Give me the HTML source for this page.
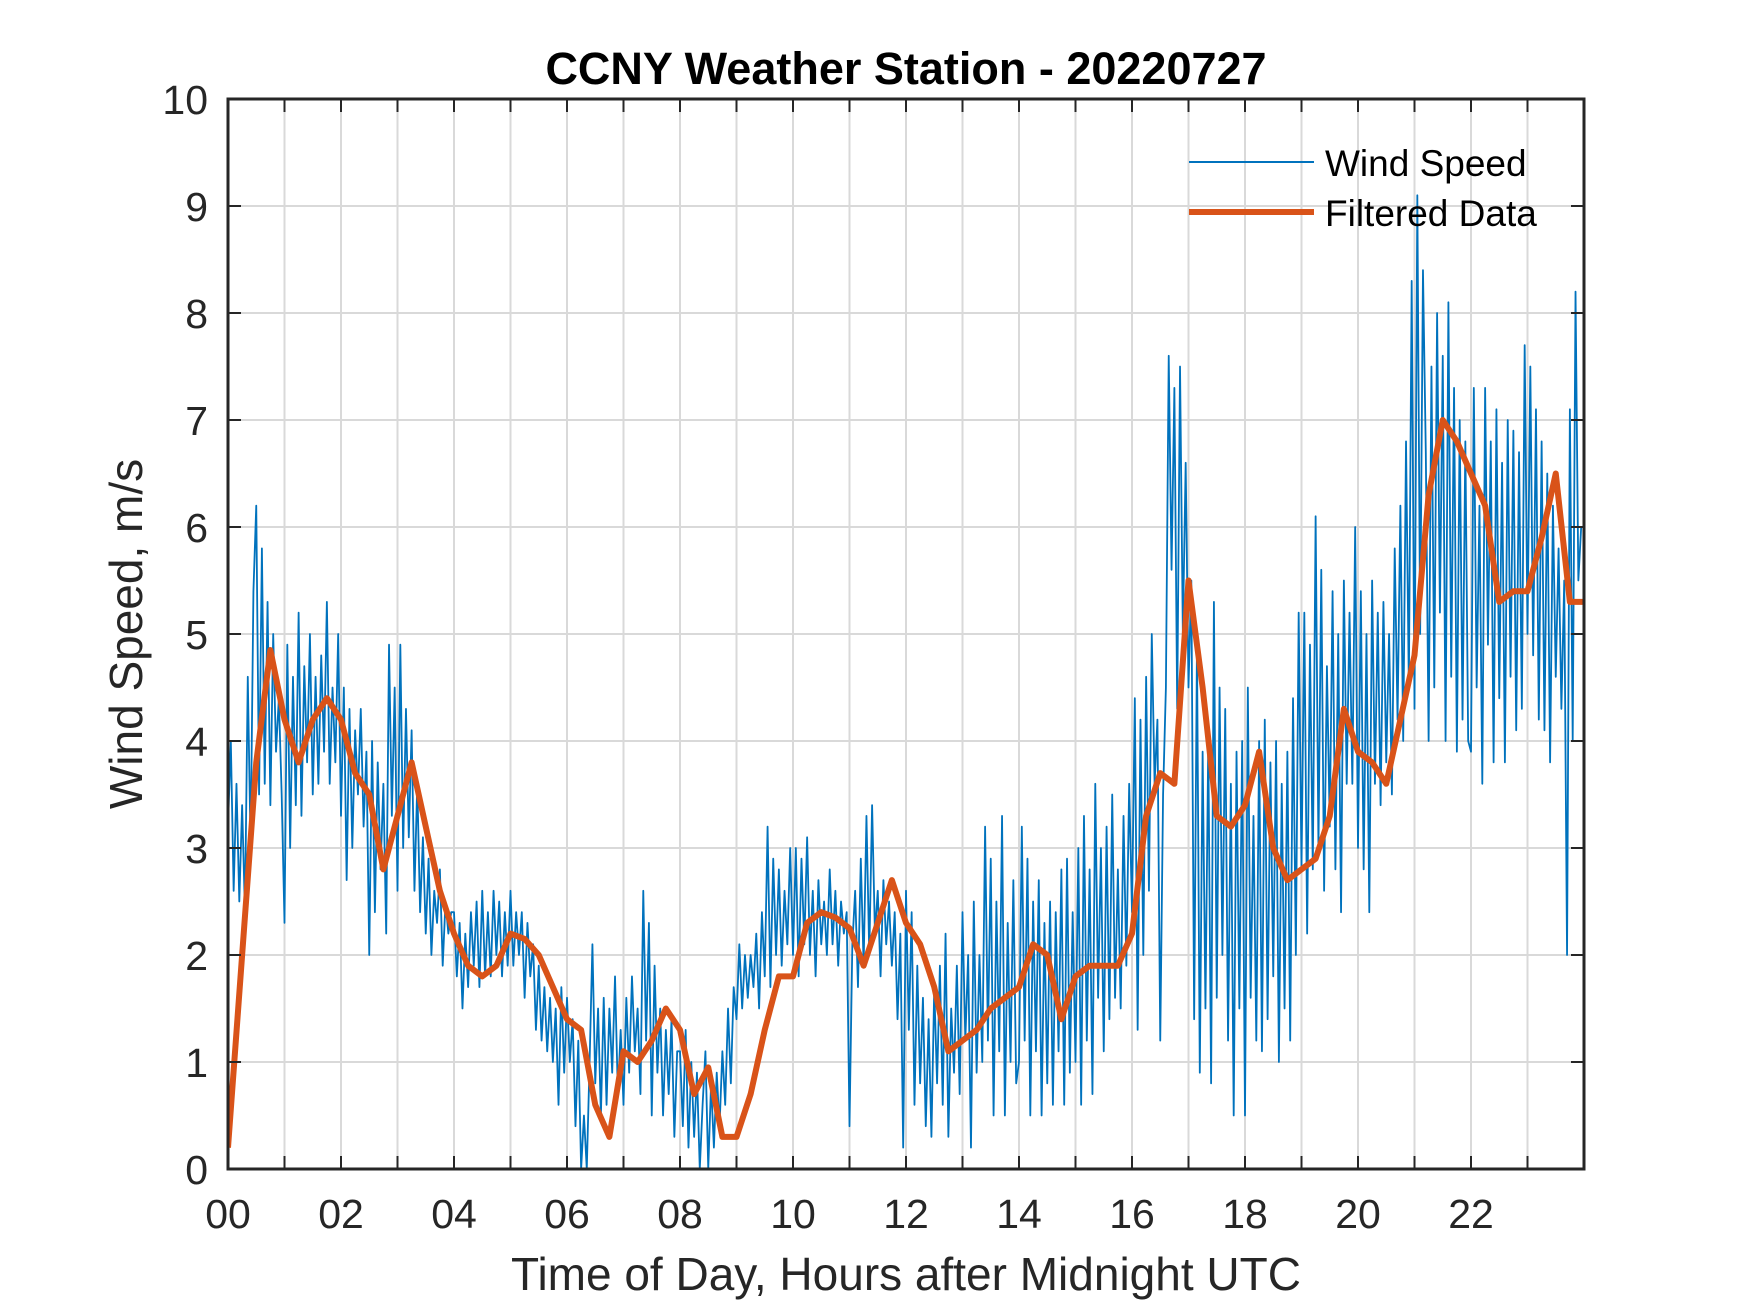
<!DOCTYPE html>
<html><head><meta charset="utf-8"><style>
html,body{margin:0;padding:0;background:#fff;}
svg{display:block;font-family:"Liberation Sans",Arial,sans-serif;}
</style></head><body>
<svg id="chart" width="1750" height="1313" viewBox="0 0 1750 1313" xmlns="http://www.w3.org/2000/svg">
<rect width="1750" height="1313" fill="#fff"/>
<g id="grid"></g>
<g id="series"></g>
<g id="axes"></g>
<text x="906" y="84" text-anchor="middle" font-size="45" font-weight="bold" fill="#000">CCNY Weather Station - 20220727</text>
<text x="906" y="1290" text-anchor="middle" font-size="46" fill="#262626">Time of Day, Hours after Midnight UTC</text>
<text transform="translate(142,634) rotate(-90)" text-anchor="middle" font-size="46" fill="#262626">Wind Speed, m/s</text>
<g>
<line x1="1189" y1="162" x2="1314" y2="162" stroke="#0072BD" stroke-width="2"/>
<text x="1325" y="176" font-size="37" fill="#000">Wind Speed</text>
<line x1="1189" y1="212" x2="1314" y2="212" stroke="#D95319" stroke-width="6"/>
<text x="1325" y="226" font-size="37" fill="#000">Filtered Data</text>
</g>
</svg>
<script>
const xTickValues=[0,2,4,6,8,10,12,14,16,18,20,22];
const xTickLabels=["00","02","04","06","08","10","12","14","16","18","20","22"];
const yTickValues=[0,1,2,3,4,5,6,7,8,9,10];
const rawStep=0.05;
const rawSpeed=[
3.2,4.0,2.6,3.6,2.5,3.4,2.4,4.6,3.0,5.4,6.2,3.5,5.8,3.6,5.3,3.4,5.0,3.9,4.4,3.5,
2.3,4.9,3.0,4.6,3.4,5.2,3.3,4.7,3.8,5.0,3.5,4.6,3.6,4.8,3.9,5.3,3.6,4.5,3.8,5.0,
3.3,4.5,2.7,4.3,3.0,4.1,3.5,4.3,3.2,3.9,2.0,4.0,2.4,3.8,2.8,3.6,2.2,4.9,3.3,4.5,
2.6,4.9,3.0,4.3,3.1,4.1,2.6,3.6,2.4,3.1,2.2,2.9,2.0,2.6,2.3,2.8,1.9,2.5,2.2,2.4,
2.4,1.8,2.3,1.5,2.2,1.7,2.4,1.9,2.5,1.7,2.6,1.8,2.4,1.8,2.6,2.0,2.5,1.8,2.4,1.9,
2.6,1.9,2.4,2.0,2.4,1.6,2.3,1.8,2.1,1.3,1.9,1.2,1.7,1.1,1.6,1.0,1.5,0.6,1.7,0.9,
1.6,1.0,1.4,0.4,1.2,0.0,0.5,0.0,1.0,2.1,0.8,1.5,0.5,1.6,0.6,1.5,0.9,1.8,0.7,1.3,
0.6,1.6,0.9,1.8,1.1,1.5,0.7,2.6,1.2,2.3,0.5,1.9,0.9,1.5,0.5,1.3,0.7,1.4,0.3,1.1,
1.1,0.4,1.3,0.2,1.0,0.3,0.9,0.0,0.6,1.1,0.0,0.8,0.2,0.9,0.4,1.1,0.6,1.5,0.8,1.7,
1.4,2.1,1.5,2.0,1.6,2.0,1.7,2.2,1.5,2.4,1.8,3.2,1.7,2.9,2.0,2.8,1.9,2.6,2.1,3.0,
2.0,3.0,1.8,2.9,2.1,3.1,2.0,2.6,1.8,2.7,2.1,2.5,2.0,2.8,2.1,2.6,1.9,2.5,2.2,2.4,
0.4,2.1,2.6,1.7,2.9,1.9,3.3,2.0,3.4,2.2,2.6,1.8,2.7,2.1,2.5,1.9,2.4,1.4,2.2,0.2,
2.6,1.3,2.4,0.6,1.9,0.8,1.6,0.4,1.4,0.3,1.7,0.8,1.9,0.6,2.2,0.3,1.5,0.9,1.9,0.7,
2.4,1.2,2.0,0.2,2.5,0.9,2.0,1.0,3.2,1.2,2.9,0.5,2.5,1.1,3.3,0.5,2.3,1.0,2.7,0.8,
1.0,3.2,1.2,2.9,0.5,2.5,1.1,2.7,0.5,2.3,0.8,2.5,0.6,2.4,1.1,2.8,0.6,2.9,0.9,2.4,
1.0,3.0,0.6,3.3,1.2,2.8,0.7,3.6,1.6,3.0,1.1,3.2,1.4,3.5,1.6,2.8,1.5,3.3,1.9,3.6,
2.4,4.4,1.3,4.2,2.0,4.6,2.6,5.0,3.6,4.2,1.2,3.5,4.5,7.6,5.6,7.3,4.3,7.5,5.0,6.6,
4.5,5.5,1.4,4.9,0.9,3.9,1.5,4.0,0.8,5.3,1.6,4.5,2.0,4.3,1.2,3.6,0.5,3.9,1.5,4.0,
0.5,4.5,1.6,3.3,1.2,4.0,1.1,4.2,1.4,3.8,1.8,4.0,1.0,3.6,1.5,3.9,1.2,4.4,2.0,5.2,
2.8,5.2,2.2,4.9,2.8,6.1,3.0,5.6,2.6,4.7,3.2,5.4,2.8,5.0,2.4,5.5,3.6,5.2,3.6,6.0,
3.0,5.4,2.8,5.0,2.4,5.5,3.6,5.2,3.4,5.3,3.8,5.0,3.5,5.8,4.2,6.2,4.0,6.8,4.5,8.3,
4.3,9.1,5.0,8.4,6.7,4.0,7.5,4.5,8.0,5.2,7.6,4.0,8.1,4.6,7.3,3.9,7.0,4.2,6.8,4.0,
3.9,7.3,4.5,6.2,3.6,7.3,4.9,6.8,3.8,7.1,4.4,6.6,3.8,7.0,4.6,6.9,4.1,6.7,4.3,7.7,
5.0,7.5,4.8,7.1,4.2,6.8,4.1,6.5,3.8,6.2,4.6,5.8,4.3,5.5,2.0,7.1,4.0,8.2,5.5,6.0];
const filtStep=0.25;
const filtered=[
0.2,2.0,3.8,4.85,4.2,3.8,4.2,4.4,4.2,3.7,3.5,2.8,3.3,3.8,3.2,2.6,
2.2,1.9,1.8,1.9,2.2,2.15,2.0,1.7,1.4,1.3,0.6,0.3,1.1,1.0,1.2,1.5,
1.3,0.7,0.95,0.3,0.3,0.7,1.3,1.8,1.8,2.3,2.4,2.35,2.25,1.9,2.3,2.7,
2.3,2.1,1.7,1.1,1.2,1.3,1.5,1.6,1.7,2.1,2.0,1.4,1.8,1.9,1.9,1.9,
2.2,3.3,3.7,3.6,5.5,4.5,3.3,3.2,3.4,3.9,3.0,2.7,2.8,2.9,3.3,4.3,
3.9,3.8,3.6,4.2,4.8,6.3,7.0,6.8,6.5,6.2,5.3,5.4,5.4,5.9,6.5,5.3,5.3];

const L=228,R=1584,T=99,B=1169,XMAX=24,YMAX=10;
const sx=v=>L+(R-L)*v/XMAX;
const sy=v=>B-(B-T)*v/YMAX;
const NS='http://www.w3.org/2000/svg';
function mk(tag,attrs,parent){const e=document.createElementNS(NS,tag);for(const k in attrs)e.setAttribute(k,attrs[k]);parent.appendChild(e);return e;}
const grid=document.getElementById('grid'),axes=document.getElementById('axes'),series=document.getElementById('series');
for(let h=1;h<XMAX;h++){
  const g=mk('line',{x1:sx(h),x2:sx(h),y1:T,y2:B,stroke:'#d9d9d9','stroke-width':2},grid);
  
  
  const t1=mk('line',{x1:sx(h),x2:sx(h),y1:B,y2:B-13,stroke:'#262626','stroke-width':2},axes);
  
  
  const t2=mk('line',{x1:sx(h),x2:sx(h),y1:T,y2:T+13,stroke:'#262626','stroke-width':2},axes);
  
  
}
yTickValues.forEach(v=>{
  if(v>0&&v<YMAX){
    const g=mk('line',{x1:L,x2:R,y1:sy(v),y2:sy(v),stroke:'#d9d9d9','stroke-width':2},grid);
    
    
    const t1=mk('line',{x1:L,x2:L+13,y1:sy(v),y2:sy(v),stroke:'#262626','stroke-width':2},axes);
    
    
    const t2=mk('line',{x1:R,x2:R-13,y1:sy(v),y2:sy(v),stroke:'#262626','stroke-width':2},axes);
    
    
  }
  const tx=mk('text',{x:208,y:sy(v)+15,'text-anchor':'end','font-size':41,fill:'#262626'},axes);
  tx.textContent=String(v);
  
  
});
xTickValues.forEach((v,i)=>{
  const tx=mk('text',{x:sx(v),y:1228,'text-anchor':'middle','font-size':41,fill:'#262626'},axes);
  tx.textContent=xTickLabels[i];
  
  
});
const box=mk('rect',{x:L,y:T,width:R-L,height:B-T,fill:'none',stroke:'#262626','stroke-width':3},axes);


const cl=mk('clipPath',{id:'clip'},series);
mk('rect',{x:L,y:T,width:R-L,height:B-T},cl);
const rawPts=rawSpeed.map((v,i)=>sx(Math.min(i*rawStep,XMAX))+','+sy(v)).join(' ');
const rl=mk('polyline',{points:rawPts,fill:'none',stroke:'#0072BD','stroke-width':1.8,'stroke-linejoin':'round','clip-path':'url(#clip)'},series);


const fPts=filtered.map((v,i)=>sx(Math.min(i*filtStep,XMAX))+','+sy(v)).join(' ');
const fl=mk('polyline',{points:fPts,fill:'none',stroke:'#D95319','stroke-width':6,'stroke-linejoin':'round','clip-path':'url(#clip)'},series);


</script>
</body></html>
